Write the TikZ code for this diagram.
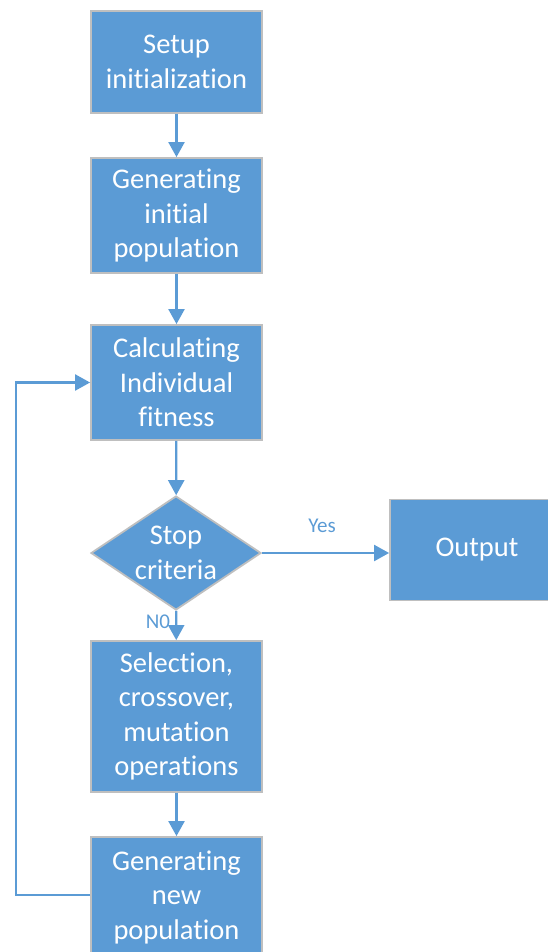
\documentclass[tikz,border=0pt]{standalone}
\usepackage{fontspec}
\setmainfont[RawFeature={-liga;-clig;-calt;-dlig;-rlig}]{Carlito}
\usetikzlibrary{shapes.geometric,arrows.meta}
\definecolor{boxblue}{HTML}{5B9BD5}
\definecolor{boxedge}{HTML}{BFBFBF}
\begin{document}
\begin{tikzpicture}[x=1pt,y=-1pt,
  procbox/.style={draw=boxedge,line width=1.8pt,fill=boxblue,text=white,
    minimum width=171pt,align=center,inner sep=0pt,
    font=\fontsize{28.5}{34.5}\selectfont},
  conn/.style={draw=boxblue,line width=2.2pt,-{Triangle[length=15pt,width=16pt]}},
  lbl/.style={text=boxblue,font=\fontsize{21}{24}\selectfont,inner sep=0pt}]
\useasboundingbox (0,0) rectangle (547,952);
\node[procbox,minimum height=102pt] (b1) at (176.5,62) {Setup\\initialization};
\node[procbox,minimum height=115pt] (b2) at (176.5,215.5) {Generating\\initial\\population};
\node[procbox,minimum height=115pt] (b3) at (176.5,382.5) {Calculating\\Individual\\fitness};
\node[draw=boxedge,line width=1.8pt,fill=boxblue,diamond,inner sep=0pt,
  minimum width=170pt,minimum height=114pt] (d) at (176,553) {};
\node[text=white,align=center,font=\fontsize{28.5}{34.5}\selectfont] (dt) at (d.center) {Stop\\criteria};
\node[procbox,minimum width=174pt,minimum height=101pt] (out) at (477,550) {Output};
\node[procbox,minimum height=151pt] (b5) at (176.5,716.5) {Selection,\\crossover,\\mutation\\operations};
\node[procbox,minimum height=120pt] (b6) at (176.5,897) {Generating\\new\\population};
\draw[conn] (b1) -- (b2);
\draw[conn] (b2) -- (b3);
\draw[conn] (b3) -- (d);
\draw[conn] (d) -- (b5);
\draw[conn] (b5) -- (b6);
\draw[conn] (d.east) -- (out.west |- d.east);
\coordinate (lp) at (16,895);
\draw[conn] (b6.west |- lp) -- (lp) |- (b3.west);
\node[lbl] (yes) at (322,526) {Yes};
\node[lbl] (no) at (158,622) {N0};
\end{tikzpicture}
\end{document}
